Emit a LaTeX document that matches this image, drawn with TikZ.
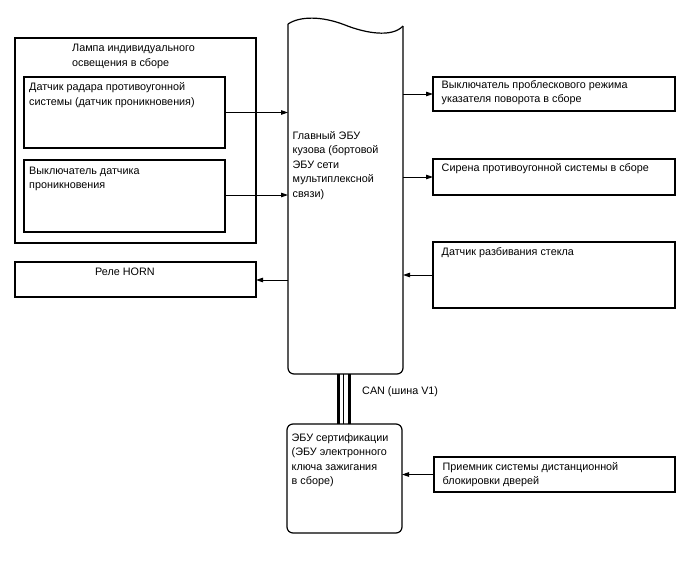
\documentclass[tikz,border=0pt]{standalone}
\usepackage{fontspec}
\setmainfont{Liberation Sans}
\usetikzlibrary{arrows.meta}
\newcommand{\bl}{10.15}
\begin{document}
\begin{tikzpicture}[x=1pt,y=-1pt,
  box/.style={draw,line width=1.2pt,inner sep=0pt,outer sep=0pt,anchor=north west},
  rbox/.style={box,rounded corners=6pt},
  lbl/.style={inner sep=0pt,anchor=north west,align=left,font=\fontsize{10.8}{14.5}\selectfont},
  conn/.style={line width=0.9pt,-{Triangle[length=7pt,width=4.5pt]}},
  can/.style={line width=#1}]
\useasboundingbox (0,0) rectangle (688,560);
% left group
\node[box,minimum width=241,minimum height=205] (lamp) at (15,38) {};
\node[lbl] (lampt) at (72,51.5-\bl) {\strut Лампа индивидуального\\освещения в сборе};
\node[box,minimum width=201,minimum height=71] (radar) at (24,77) {};
\node[lbl] (radart) at (29,90.5-\bl) {\strut Датчик радара противоугонной\\системы (датчик проникновения)};
\node[box,minimum width=201,minimum height=72] (intr) at (24,160) {};
\node[lbl] (intrt) at (29,174-\bl) {\strut Выключатель датчика\\проникновения};
\node[box,minimum width=241,minimum height=35] (horn) at (15,262) {};
\node[lbl] (hornt) at (95,275.5-\bl) {\strut Реле HORN};
% main ECU
\node[inner sep=0pt,outer sep=0pt,minimum width=115,minimum height=350,anchor=north west] (ecu) at (288,24) {};
\draw[line width=1.2pt,rounded corners=6pt] (288,24) -- (288,374) -- (403,374) -- (403,26);
\draw[line width=1.2pt] (288,24) .. controls (300,16) and (322,16) .. (345,25) .. controls (365,33) and (392,38) .. (403,26);
\node[lbl] (ecut) at (292.5,139-\bl) {\strut Главный ЭБУ\\кузова (бортовой\\ЭБУ сети\\мультиплексной\\связи)};
% right group
\node[box,minimum width=242,minimum height=34] (flash) at (433,77) {};
\node[lbl] (flasht) at (441.5,88-\bl) {\strut Выключатель проблескового режима\\указателя поворота в сборе};
\node[box,minimum width=242,minimum height=36] (siren) at (433,159) {};
\node[lbl] (sirent) at (441.5,171.5-\bl) {\strut Сирена противоугонной системы в сборе};
\node[box,minimum width=242,minimum height=66] (glass) at (433,242) {};
\node[lbl] (glasst) at (441.5,255.5-\bl) {\strut Датчик разбивания стекла};
% certification ECU
\node[rbox,minimum width=115,minimum height=109] (cert) at (287,424) {};
\node[lbl] (certt) at (291.5,441-\bl) {\strut ЭБУ сертификации\\(ЭБУ электронного\\ключа зажигания\\в сборе)};
\node[box,minimum width=241,minimum height=35] (recv) at (434,457) {};
\node[lbl] (recvt) at (442.5,470-\bl) {\strut Приемник системы дистанционной\\блокировки дверей};
% CAN bus
\draw[can=3pt] (338.3,0 |- ecu.south) -- (338.3,0 |- cert.north);
\draw[can=1pt] (343.5,0 |- ecu.south) -- (343.5,0 |- cert.north);
\draw[can=3pt] (349.5,0 |- ecu.south) -- (349.5,0 |- cert.north);
\node[lbl] (cant) at (362,394-\bl) {\strut CAN (шина V1)};
% connectors
\draw[conn] (radar.east) -- (ecu.west |- radar.east);
\draw[conn] (intr.east |- 0,195) -- (ecu.west |- 0,195);
\draw[conn] (ecu.east |- flash.west) -- (flash.west);
\draw[conn] (ecu.east |- siren.west) -- (siren.west);
\draw[conn] (glass.west) -- (ecu.east |- glass.west);
\draw[conn] (ecu.west |- 0,280) -- (horn.east |- 0,280);
\draw[conn] (recv.west) -- (cert.east |- recv.west);
\end{tikzpicture}
\end{document}
